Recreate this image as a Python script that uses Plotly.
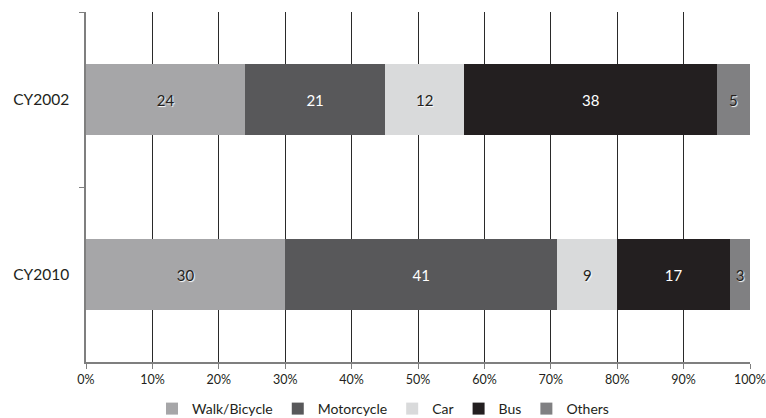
import plotly.graph_objects as go

years = ["CY2002", "CY2010"]
modes = ["Walk/Bicycle", "Motorcycle", "Car", "Bus", "Others"]
walk = [24, 30]
motorcycle = [21, 41]
car = [12, 9]
bus = [38, 17]
others = [5, 3]
x_ticks = [0, 10, 20, 30, 40, 50, 60, 70, 80, 90, 100]
x_tick_labels = ["0%", "10%", "20%", "30%", "40%", "50%", "60%", "70%", "80%", "90%", "100%"]

series = [walk, motorcycle, car, bus, others]
colors = ["#a6a6a8", "#58585a", "#d9dadb", "#231f20", "#808082"]
text_colors = ["#231f20", "#ffffff", "#231f20", "#ffffff", "#231f20"]
shadows = ["1px 1px 1px #fff", "none", "1px 1px 1px #fff", "none", "1px 1px 1px #fff"]

fig = go.Figure()
for name, vals, c, tc, sh in zip(modes, series, colors, text_colors, shadows):
    fig.add_trace(go.Bar(
        y=years, x=vals, name=name, orientation="h",
        marker=dict(color=c, line=dict(width=0)),
        text=[str(v) for v in vals], textposition="inside",
        insidetextanchor="middle",
        textfont=dict(color=tc, size=15, family="Lato", shadow=sh),
        constraintext="none",
    ))

fig.update_layout(
    barmode="stack",
    bargap=0.595,
    width=766, height=418,
    margin=dict(l=86, r=16, t=12, b=56),
    plot_bgcolor="white", paper_bgcolor="white",
    font=dict(family="Lato", color="#231f20"),
    showlegend=True,
    legend=dict(orientation="h", x=0.5, xanchor="center", xref="container",
                y=9 / 418, yanchor="middle", yref="container",
                font=dict(size=14), traceorder="normal", itemwidth=30,
                tracegroupgap=0, borderwidth=0),
    xaxis=dict(range=[0, 100], tickvals=x_ticks, ticktext=x_tick_labels,
               showgrid=True, gridcolor="#2a2a2a", gridwidth=1,
               showline=True, linecolor="#7f7f7f", linewidth=1.5,
               ticks="outside", ticklen=5, tickcolor="#7f7f7f",
               tickfont=dict(size=12.5), zeroline=False, automargin=False),
    yaxis=dict(autorange="reversed", showline=True, linecolor="#7f7f7f", linewidth=1.5,
               ticks="outside", tickson="boundaries", ticklen=5, tickcolor="#7f7f7f",
               tickfont=dict(size=15.5), showgrid=False, ticksuffix="   ",
               automargin=False),
)

fig.write_html("out.html")
